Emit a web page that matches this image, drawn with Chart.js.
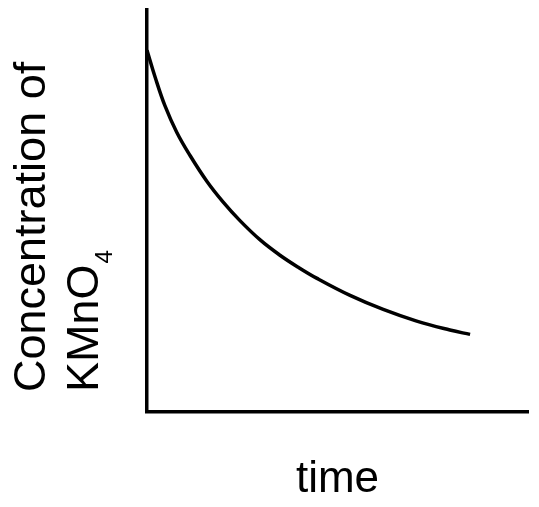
<!DOCTYPE html>
<html lang="en">
<head>
<meta charset="UTF-8">
<title>Concentration of KMnO4 vs time</title>
<script src="https://cdn.jsdelivr.net/npm/chart.js"></script>
<style>
    body {
        margin: 0;
        padding: 0;
        background: #fff;
    }
    .chart-box {
        position: relative;
        width: 539px;
        height: 507px;
    }
</style>
</head>
<body>
<div class="chart-box">
    <canvas id="kmno4Chart"></canvas>
</div>
<script>
    // values (arbitrary units, axes run 0..10)
    const timeValues = [0, 0.21, 0.47, 0.78, 1.13, 1.57, 2.00, 2.44, 2.97, 3.49, 3.97, 4.45, 5.33, 6.20, 7.08, 7.95, 8.48];
    const concValues = [9.0, 8.34, 7.62, 6.96, 6.38, 5.74, 5.22, 4.76, 4.28, 3.90, 3.60, 3.33, 2.90, 2.55, 2.26, 2.04, 1.93];
    const xTitle = 'time';
    const yTitleLines = ['Concentration of', 'KMnO', '4'];

    const FONT = '"Liberation Sans", Arial, sans-serif';
    Chart.defaults.font.family = FONT;

    // y axis title, drawn by hand so the subscript 4 sits right
    const yTitlePlugin = {
        id: 'yTitle',
        afterDraw(chart) {
            const ctx = chart.ctx;
            ctx.save();
            ctx.fillStyle = '#000';
            ctx.textBaseline = 'alphabetic';
            ctx.textAlign = 'left';

            ctx.save();
            ctx.translate(44.5, 392);
            ctx.rotate(-Math.PI / 2);
            ctx.font = '45px ' + FONT;
            ctx.fillText(yTitleLines[0], 0, 0);
            ctx.restore();

            ctx.save();
            ctx.translate(98, 392);
            ctx.rotate(-Math.PI / 2);
            ctx.font = '45px ' + FONT;
            ctx.fillText(yTitleLines[1], 0, 0);
            const w = ctx.measureText(yTitleLines[1]).width;
            ctx.font = '24px ' + FONT;
            ctx.fillText(yTitleLines[2], w + 1, 14);
            ctx.restore();

            ctx.restore();
        }
    };

    const points = timeValues.map((t, i) => ({ x: t, y: concValues[i] }));

    new Chart(document.getElementById('kmno4Chart'), {
        type: 'line',
        data: {
            datasets: [{
                data: points,
                borderColor: '#000',
                borderWidth: 3.5,
                pointRadius: 0,
                fill: false,
                tension: 0.4
            }]
        },
        options: {
            responsive: true,
            maintainAspectRatio: false,
            animation: false,
            layout: { padding: { left: 147, top: 10, right: 11, bottom: 0 } },
            plugins: {
                legend: { display: false },
                tooltip: { enabled: false }
            },
            scales: {
                x: {
                    type: 'linear',
                    min: 0,
                    max: 10,
                    grid: { display: false, drawTicks: false },
                    ticks: { display: false },
                    border: { color: '#000', width: 3.5 },
                    title: {
                        display: true,
                        text: xTitle,
                        color: '#000',
                        font: { size: 44 },
                        padding: { top: 41.6, bottom: 0.6 }
                    }
                },
                y: {
                    min: 0,
                    max: 10,
                    grid: { display: false, drawTicks: false },
                    ticks: { display: false },
                    border: { color: '#000', width: 3.5 }
                }
            }
        },
        plugins: [yTitlePlugin]
    });
</script>
</body>
</html>
